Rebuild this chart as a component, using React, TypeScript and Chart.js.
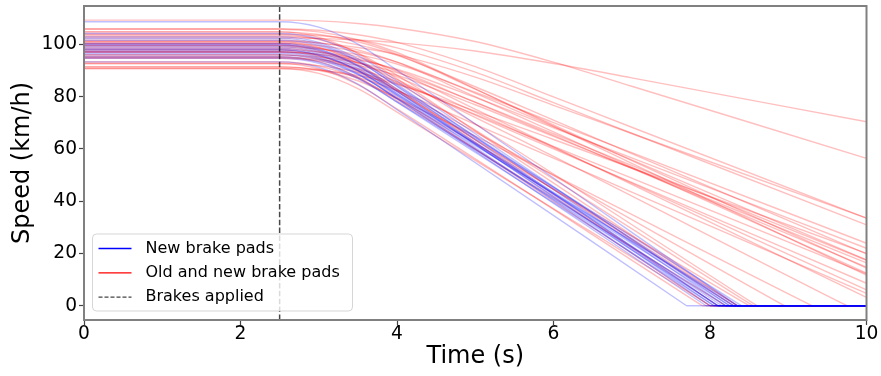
import React, { useEffect, useRef } from "react";
import { Chart, registerables } from "chart.js";

Chart.register(...registerables);

const W = 881;
const H = 376;
const FONT = "'DejaVu Sans', sans-serif";

const xTicks = [0, 2, 4, 6, 8, 10];
const yTicks = [0, 20, 40, 60, 80, 100];
const xRange = [0, 10];
const yRange = [-5.47, 114.7];
const brakesAppliedAt = 2.5;

const seriesNames = ["New brake pads", "Old and new brake pads", "Brakes applied"];
const axisTitles = ["Time (s)", "Speed (km/h)"];

type Pt = [number, number];

// [time (s), speed (km/h)]
const newPads: Pt[][] = [
  [[0, 108.7], [2.5, 108.7], [3, 106.6], [3.5, 100.1], [4, 90.1], [8.35, 0], [10, 0]],
  [[0, 104.2], [2.5, 104.2], [3, 102.1], [3.5, 95.8], [4, 86.0], [8.25, 0], [10, 0]],
  [[0, 102.9], [2.5, 102.9], [3, 100.8], [3.5, 94.5], [4, 84.7], [8.2, 0], [10, 0]],
  [[0, 101.6], [2.5, 101.6], [3, 99.6], [3.5, 93.5], [4, 84.1], [8.3, 0], [10, 0]],
  [[0, 100.4], [2.5, 100.4], [3, 98.3], [3.5, 91.9], [4, 82.1], [8.05, 0], [10, 0]],
  [[0, 99.7], [2.5, 99.7], [3, 97.6], [3.5, 91.5], [4, 82.0], [8.15, 0], [10, 0]],
  [[0, 99.1], [2.5, 99.1], [3, 97.0], [3.5, 90.8], [4, 81.3], [8.1, 0], [10, 0]],
  [[0, 98.5], [2.5, 98.5], [3, 96.4], [3.5, 90.1], [4, 80.4], [8.0, 0], [10, 0]],
  [[0, 97.8], [2.5, 97.8], [3, 95.8], [3.5, 89.9], [4, 80.7], [8.25, 0], [10, 0]],
  [[0, 97.2], [2.5, 97.2], [3, 95.1], [3.5, 88.9], [4, 79.2], [7.95, 0], [10, 0]],
  [[0, 96.6], [2.5, 96.6], [3, 94.6], [3.5, 88.6], [4, 79.2], [8.1, 0], [10, 0]],
  [[0, 96.0], [2.5, 96.0], [3, 94.1], [3.5, 88.4], [4, 79.5], [8.35, 0], [10, 0]],
  [[0, 95.3], [2.5, 95.3], [3, 93.3], [3.5, 87.3], [4, 77.9], [8.05, 0], [10, 0]],
  [[0, 94.7], [2.5, 94.7], [3, 92.8], [3.5, 86.9], [4, 78.0], [8.2, 0], [10, 0]],
  [[0, 93.3], [2.5, 93.3], [3, 91.2], [3.5, 84.8], [4, 75.0], [7.7, 0], [10, 0]],
  [[0, 98.0], [2.5, 98.0], [3, 96.0], [3.5, 90.1], [4, 81.0], [8.3, 0], [10, 0]],
  [[0, 100.0], [2.5, 100.0], [3, 98.0], [3.5, 92.1], [4, 83.0], [8.4, 0], [10, 0]],
  [[0, 102.3], [2.5, 102.3], [3, 100.2], [3.5, 93.8], [4, 83.9], [8.1, 0], [10, 0]],
];

const oldAndNewPads: Pt[][] = [
  [[0, 109.3], [2.5, 109.3], [3, 109.0], [3.5, 108.0], [4, 106.3], [5, 101.1], [6, 93.2], [7, 84.0], [10, 56.4]],
  [[0, 102.5], [2.5, 102.5], [3, 102.3], [3.5, 101.7], [4, 100.7], [5, 97.5], [6, 92.7], [7, 87.2], [10, 70.4]],
  [[0, 106.0], [2.5, 106.0], [3, 105.4], [3.5, 103.7], [4, 100.8], [5, 91.5], [6, 79.9], [7, 68.3], [10, 33.5]],
  [[0, 101.0], [2.5, 101.0], [3, 100.5], [3.5, 98.8], [4, 96.1], [5, 87.5], [6, 76.7], [7, 65.9], [10, 33.5]],
  [[0, 104.0], [2.5, 104.0], [3, 103.4], [3.5, 101.7], [4, 98.7], [5, 89.4], [6, 77.7], [7, 66.0], [10, 30.9]],
  [[0, 99.0], [2.5, 99.0], [3, 98.3], [3.5, 96.1], [4, 92.5], [5, 81.7], [6, 70.1], [7, 58.6], [10, 23.9]],
  [[0, 97.0], [2.5, 97.0], [3, 96.3], [3.5, 94.1], [4, 90.5], [5, 79.7], [6, 68.1], [7, 56.6], [10, 22.0]],
  [[0, 103.0], [2.5, 103.0], [3, 102.2], [3.5, 99.8], [4, 95.8], [5, 83.8], [6, 71.0], [7, 58.2], [10, 19.8]],
  [[0, 96.0], [2.5, 96.0], [3, 95.2], [3.5, 93.0], [4, 89.2], [5, 77.9], [6, 65.8], [7, 53.7], [10, 17.4]],
  [[0, 100.4], [2.5, 100.4], [3, 99.6], [3.5, 97.2], [4, 93.2], [5, 81.3], [6, 68.5], [7, 55.8], [10, 17.5]],
  [[0, 95.0], [2.5, 95.0], [3, 94.2], [3.5, 92.0], [4, 88.2], [5, 76.9], [6, 64.8], [7, 52.7], [10, 16.4]],
  [[0, 98.0], [2.5, 98.0], [3, 97.1], [3.5, 94.5], [4, 90.1], [5, 77.8], [6, 65.2], [7, 52.6], [10, 14.8]],
  [[0, 92.7], [2.5, 92.7], [3, 91.9], [3.5, 89.3], [4, 85.1], [5, 73.2], [6, 61.0], [7, 48.8], [10, 12.2]],
  [[0, 101.6], [2.5, 101.6], [3, 100.7], [3.5, 97.9], [4, 93.2], [5, 80.0], [6, 66.5], [7, 53.0], [10, 12.5]],
  [[0, 94.7], [2.5, 94.7], [3, 93.7], [3.5, 90.7], [4, 85.7], [5, 72.9], [6, 60.0], [7, 47.2], [10, 8.6]],
  [[0, 97.2], [2.5, 97.2], [3, 96.1], [3.5, 93.0], [4, 87.6], [5, 74.1], [6, 60.5], [7, 46.9], [10, 6.1]],
  [[0, 91.4], [2.5, 91.4], [3, 90.4], [3.5, 87.4], [4, 82.3], [5, 69.4], [6, 56.5], [7, 43.5], [10, 4.7]],
  [[0, 99.7], [2.5, 99.7], [3, 98.6], [3.5, 95.2], [4, 89.6], [5, 75.2], [6, 60.8], [7, 46.4], [10, 3.2]],
  [[0, 105.8], [2.5, 105.8], [3, 104.8], [3.5, 101.8], [4, 96.9], [5, 83.0], [6, 68.7], [7, 54.5], [10, 11.7]],
  [[0, 90.8], [2.5, 90.8], [3, 90.1], [3.5, 88.1], [4, 84.7], [5, 74.5], [6, 63.6], [7, 52.7], [10, 20.0]],
  [[0, 104.8], [2.5, 104.8], [3, 103.8], [3.5, 101.0], [4, 96.2], [5, 82.9], [6, 69.2], [7, 55.5], [10, 14.4]],
  [[0, 98.5], [2.5, 98.5], [3, 97.2], [3.5, 93.1], [4, 86.5], [9.75, 0], [10, 0]],
  [[0, 91.4], [2.5, 91.4], [3, 90.1], [3.5, 86.1], [4, 79.4], [9.3, 0], [10, 0]],
  [[0, 96.0], [2.5, 96.0], [3, 94.5], [3.5, 90.0], [4, 82.6], [8.95, 0], [10, 0]],
  [[0, 100.4], [2.5, 100.4], [3, 98.7], [3.5, 93.7], [4, 85.4], [8.55, 0], [10, 0]],
  [[0, 93.3], [2.5, 93.3], [3, 91.7], [3.5, 87.0], [4, 79.2], [8.5, 0], [10, 0]],
  [[0, 103.6], [2.5, 103.6], [3, 101.9], [3.5, 96.8], [4, 88.2], [8.6, 0], [10, 0]],
  [[0, 97.2], [2.5, 97.2], [3, 95.5], [3.5, 90.4], [4, 82.0], [8.3, 0], [10, 0]],
  [[0, 101.0], [2.5, 101.0], [3, 98.9], [3.5, 92.6], [4, 82.8], [8.1, 0], [10, 0]],
  [[0, 97.8], [2.5, 97.8], [3, 95.7], [3.5, 89.5], [4, 79.8], [8.0, 0], [10, 0]],
  [[0, 95.3], [2.5, 95.3], [3, 93.4], [3.5, 87.5], [4, 78.5], [8.2, 0], [10, 0]],
  [[0, 92.7], [2.5, 92.7], [3, 90.7], [3.5, 84.6], [4, 75.3], [7.9, 0], [10, 0]],
  [[0, 104.8], [2.5, 104.8], [3, 102.7], [3.5, 96.5], [4, 86.8], [8.35, 0], [10, 0]],
  [[0, 99.7], [2.5, 99.7], [3, 97.7], [3.5, 91.8], [4, 82.6], [8.35, 0], [10, 0]],
  [[0, 90.8], [2.5, 90.8], [3, 88.9], [3.5, 83.1], [4, 74.1], [8.0, 0], [10, 0]],
];

const BLUE = "rgba(0,0,255,0.25)";
const RED = "rgba(255,0,0,0.25)";

// split a line after the car has stopped so the smooth curve ends sharply at 0
function toData(line: Pt[]) {
  const out: { x: number; y: number | null }[] = [];
  let stopped = false;
  line.forEach(([x, y], i) => {
    out.push({ x, y });
    if (!stopped && y === 0 && i < line.length - 1) {
      stopped = true;
      out.push({ x, y: null });
      out.push({ x, y });
    }
  });
  return out;
}

const framePlugin = {
  id: "frameAndLegend",
  afterDraw(chart: any) {
    const { ctx, chartArea } = chart;
    const { left, top, right, bottom } = chartArea;
    ctx.save();
    ctx.strokeStyle = "#808080";
    ctx.lineWidth = 2;
    ctx.strokeRect(left, top, right - left, bottom - top);

    // legend box
    const bx = left + 8.5;
    const by = bottom - 86;
    const bw = 260;
    const bh = 77;
    ctx.beginPath();
    (ctx as any).roundRect(bx, by, bw, bh, 4);
    ctx.fillStyle = "rgba(255,255,255,0.8)";
    ctx.fill();
    ctx.strokeStyle = "rgba(204,204,204,0.8)";
    ctx.lineWidth = 1;
    ctx.stroke();

    const rows = [
      { color: "#0000ff", dash: [] as number[] },
      { color: "#ff0000", dash: [] as number[] },
      { color: "#444444", dash: [4, 2] },
    ];
    ctx.font = `16px ${FONT}`;
    ctx.textBaseline = "middle";
    ctx.textAlign = "left";
    rows.forEach((r, i) => {
      const y = by + 14.5 + i * 24.3;
      ctx.beginPath();
      ctx.setLineDash(r.dash);
      ctx.strokeStyle = r.color;
      ctx.lineWidth = 1.3;
      ctx.moveTo(bx + 6, y);
      ctx.lineTo(bx + 39, y);
      ctx.stroke();
      ctx.setLineDash([]);
      ctx.fillStyle = "#000";
      ctx.fillText(seriesNames[i], bx + 53, y);
    });
    ctx.restore();
  },
};

export default function App() {
  const ref = useRef<HTMLCanvasElement>(null);

  useEffect(() => {
    if (!ref.current) return;
    const datasets: any[] = [];
    datasets.push({
      label: seriesNames[2],
      data: [
        { x: brakesAppliedAt, y: yRange[0] },
        { x: brakesAppliedAt, y: yRange[1] },
      ],
      borderColor: "rgba(0,0,0,0.72)",
      borderWidth: 1.5,
      borderDash: [5.5, 2.4],
      cubicInterpolationMode: "default",
      tension: 0,
    });
    newPads.forEach((line) =>
      datasets.push({ label: seriesNames[0], data: toData(line), borderColor: BLUE })
    );
    oldAndNewPads.forEach((line) =>
      datasets.push({ label: seriesNames[1], data: toData(line), borderColor: RED })
    );

    const tickFont = { family: FONT, size: 18.67, lineHeight: 1 };
    const titleFont = { family: FONT, size: 24, lineHeight: 1.2 };

    const chart = new Chart(ref.current, {
      type: "line",
      data: { datasets },
      options: {
        animation: false,
        responsive: false,
        devicePixelRatio: 1,
        parsing: false as any,
        normalized: true,
        layout: { padding: { top: 6, right: 14.5, left: 0, bottom: 0 } },
        plugins: { legend: { display: false }, tooltip: { enabled: false } },
        elements: {
          point: { radius: 0, hoverRadius: 0 },
          line: { cubicInterpolationMode: "monotone", borderWidth: 1.4, fill: false },
        },
        scales: {
          x: {
            type: "linear",
            min: xRange[0],
            max: xRange[1],
            afterBuildTicks: (s: any) => {
              s.ticks = xTicks.map((v) => ({ value: v }));
            },
            afterFit: (s: any) => {
              s.height = H - 320;
              s.paddingLeft = 0;
              s.paddingRight = 0;
            },
            grid: { drawOnChartArea: false, drawTicks: true, tickLength: 5, tickColor: "#444", tickWidth: 1.2 },
            border: { display: false },
            ticks: { font: tickFont, color: "#000", padding: 0, maxRotation: 0, autoSkip: false },
            title: {
              display: true,
              text: axisTitles[0],
              font: titleFont,
              color: "#000",
              padding: { top: 0, bottom: 4.6 },
            },
          },
          y: {
            type: "linear",
            min: yRange[0],
            max: yRange[1],
            afterBuildTicks: (s: any) => {
              s.ticks = yTicks.map((v) => ({ value: v }));
            },
            afterFit: (s: any) => {
              s.width = 84;
              s.paddingTop = 0;
              s.paddingBottom = 0;
            },
            grid: { drawOnChartArea: false, drawTicks: true, tickLength: 5, tickColor: "#444", tickWidth: 1.2 },
            border: { display: false },
            ticks: { font: tickFont, color: "#000", padding: 2 },
            title: {
              display: true,
              text: axisTitles[1],
              font: titleFont,
              color: "#000",
              padding: { top: 8.6, bottom: 0 },
            },
          },
        },
      } as any,
      plugins: [framePlugin],
    });
    return () => chart.destroy();
  }, []);

  return (
    <div style={{ position: "fixed", left: 0, top: 0, width: W, height: H, background: "#fff" }}>
      <canvas ref={ref} width={W} height={H} style={{ display: "block" }} />
    </div>
  );
}
